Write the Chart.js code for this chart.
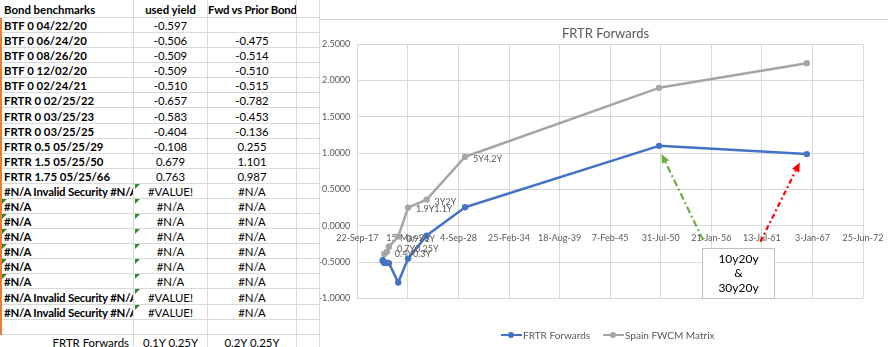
<!DOCTYPE html>
<html><head><meta charset="utf-8">
<script src="https://cdn.jsdelivr.net/npm/chart.js@4/dist/chart.umd.min.js"></script>
<style>
html,body{margin:0;padding:0;width:888px;height:347px;overflow:hidden;background:#fff;}
#sheet{position:absolute;left:0;top:0;width:888px;height:347px;font-family:Lato,'Liberation Sans',sans-serif;font-size:11.4px;color:#000;}
.c{position:absolute;box-sizing:border-box;border-right:1px solid #d9d9d9;border-bottom:1px solid #d9d9d9;white-space:nowrap;overflow:hidden;padding:0 4px;}
.b{font-weight:bold;}
.ctr{text-align:center;padding:0;}
.rgt{text-align:right;}
.tight{letter-spacing:-0.2px;}
.tri{position:absolute;width:0;height:0;border-top:5px solid #2a8a2a;border-right:5px solid transparent;}
#orange{position:absolute;left:0;top:18px;width:2px;height:317px;background:#ED7D31;}
#chartbox{position:absolute;left:319px;top:19px;width:600px;height:340px;border-left:1px solid #d9d9d9;border-top:1px solid #d9d9d9;background:#fff;}
#cv{position:absolute;left:0;top:0;}
.lgline{position:absolute;height:2.5px;}
.lgdot{position:absolute;width:6px;height:6px;border-radius:50%;}
.lgtxt{position:absolute;font-family:Lato,'Liberation Sans',sans-serif;font-size:10px;color:#595959;line-height:14px;white-space:nowrap;}
</style>
</head>
<body>
<div id="sheet"></div>
<div id="chartbox"><canvas id="cv" width="571" height="327"></canvas></div>
<div class="lgline" style="left:501px;top:333.5px;width:21px;background:#4472C4"></div>
<div class="lgdot" style="left:508px;top:331.7px;background:#4472C4"></div>
<div class="lgtxt" style="left:523px;top:327.7px">FRTR Forwards</div>
<div class="lgline" style="left:603px;top:333.5px;width:21px;background:#A5A5A5"></div>
<div class="lgdot" style="left:610px;top:331.7px;background:#A5A5A5"></div>
<div class="lgtxt" style="left:625px;top:327.7px">Spain FWCM Matrix</div>
<script>
// ---------- Spreadsheet data ----------
const headers = ['Bond benchmarks', 'used yield', 'Fwd vs Prior Bond'];
const bondNames = ['BTF 0 04/22/20','BTF 0 06/24/20','BTF 0 08/26/20','BTF 0 12/02/20','BTF 0 02/24/21',
  'FRTR 0 02/25/22','FRTR 0 03/25/23','FRTR 0 03/25/25','FRTR 0.5 05/25/29','FRTR 1.5 05/25/50','FRTR 1.75 05/25/66'];
const usedYield = ['-0.597','-0.506','-0.509','-0.509','-0.510','-0.657','-0.583','-0.404','-0.108','0.679','0.763'];
const fwdVsPriorText = ['','-0.475','-0.514','-0.510','-0.515','-0.782','-0.453','-0.136','0.255','1.101','0.987'];
const errorRowsA = ['#N/A Invalid Security #N/A Invalid Security','#N/A','#N/A','#N/A','#N/A','#N/A','#N/A',
  '#N/A Invalid Security #N/A Invalid Security','#N/A Invalid Security #N/A Invalid Security'];
const errorRowsB = ['#VALUE!','#N/A','#N/A','#N/A','#N/A','#N/A','#N/A','#VALUE!','#VALUE!'];
const errorRowsC = ['#N/A','#N/A','#N/A','#N/A','#N/A','#N/A','#N/A','#N/A','#N/A'];
const footerRow = ['FRTR Forwards','0.1Y 0.25Y','0.2Y 0.25Y'];

// ---------- Chart data ----------
const maturitySerial = [43943, 44006, 44069, 44167, 44251, 44617, 45010, 45741, 47263, 54933, 60777]; // Excel date serials
const frtrForwards   = [null, -0.475, -0.514, -0.510, -0.515, -0.782, -0.453, -0.136, 0.255, 1.101, 0.987];
const spainFwcm      = [null, -0.49, -0.39, -0.36, -0.29, -0.15, 0.25, 0.36, 0.95, 1.90, 2.24];
const spainLabels    = [null, null, null, '0.4Y0.3Y', '0.7Y0.25Y', '0.9Y1Y', '1.9Y1.1Y', '3Y2Y', '5Y4.2Y', null, null];
const seriesNames    = ['FRTR Forwards', 'Spain FWCM Matrix'];
const chartTitle     = 'FRTR Forwards';
const xTicks = [43000, 45000, 47000, 49000, 51000, 53000, 55000, 57000, 59000, 61000, 63000];
const yTicks = [-1, -0.5, 0, 0.5, 1, 1.5, 2, 2.5];
// annotations (data coordinates: Excel serial, value)
const greenArrow = [[56676, -0.197], [55032, 0.99]];
const redArrow   = [[58945, -0.22], [60498, 0.87]];
const noteBox    = [[56613, -0.311], [59482, -1.0]];
const noteLines  = ['10y20y', '&', '30y20y'];

// ---------- Build sheet ----------
const sheet = document.getElementById('sheet');
const colX = [0, 134, 208, 297, 320];
function rowTop(i){ return i === 0 ? 0 : Math.round(18 + (i - 1) * 15.08); }
function rowH(i){ return rowTop(i + 1) - rowTop(i); }
function cell(col, row, text, cls){
  const d = document.createElement('div');
  d.className = 'c ' + (cls || '');
  d.style.left = colX[col] + 'px'; d.style.width = (colX[col + 1] - colX[col]) + 'px';
  d.style.top = rowTop(row) + 'px'; d.style.height = rowH(row) + 'px';
  d.style.lineHeight = (rowH(row) + 1) + 'px';
  d.textContent = text;
  sheet.appendChild(d);
  return d;
}
function tri(x, row){
  const t = document.createElement('div'); t.className = 'tri';
  t.style.left = x + 'px'; t.style.top = (rowTop(row)) + 'px';
  sheet.appendChild(t);
}
cell(0, 0, headers[0], 'b'); cell(1, 0, headers[1], 'b ctr'); cell(2, 0, headers[2], 'b ctr tight'); cell(3, 0, '', '');
let r = 1;
for (let i = 0; i < bondNames.length; i++, r++){
  cell(0, r, bondNames[i], 'b'); cell(1, r, usedYield[i], 'ctr'); cell(2, r, fwdVsPriorText[i], 'ctr'); cell(3, r, '', '');
}
for (let i = 0; i < errorRowsA.length; i++, r++){
  cell(0, r, errorRowsA[i], 'b tight'); cell(1, r, errorRowsB[i], 'ctr'); cell(2, r, errorRowsC[i], 'ctr'); cell(3, r, '', '');
  tri(135, r);
  if (errorRowsA[i] === '#N/A') tri(2, r);
}
cell(0, r, '', ''); cell(1, r, '', ''); cell(2, r, '', ''); cell(3, r, '', ''); r++;
cell(0, r, footerRow[0], 'rgt'); cell(1, r, footerRow[1], 'ctr'); cell(2, r, footerRow[2], 'ctr'); cell(3, r, '', '');
const orange = document.createElement('div'); orange.id = 'orange'; sheet.appendChild(orange);

// ---------- Chart ----------
const MONTHS = ['Jan','Feb','Mar','Apr','May','Jun','Jul','Aug','Sep','Oct','Nov','Dec'];
function serialToLabel(s){
  const d = new Date(Date.UTC(1899, 11, 30) + s * 864e5);
  return d.getUTCDate() + '-' + MONTHS[d.getUTCMonth()] + '-' + String(d.getUTCFullYear() % 100).padStart(2, '0');
}
function pts(ys, lbls){
  const out = [];
  maturitySerial.forEach((x, i) => { if (ys[i] !== null) out.push({x: x, y: ys[i], lbl: lbls ? lbls[i] : null}); });
  return out;
}
const FONT = 'Lato, "Liberation Sans", sans-serif';
Chart.defaults.font.family = FONT;

const labelPlugin = {
  id: 'pointLabels',
  afterDatasetsDraw(chart){
    const ctx = chart.ctx, meta = chart.getDatasetMeta(1), ds = chart.data.datasets[1].data;
    ctx.save();
    ctx.font = '9px ' + FONT; ctx.fillStyle = '#595959'; ctx.textAlign = 'left'; ctx.textBaseline = 'middle';
    meta.data.forEach((el, i) => { if (ds[i].lbl) ctx.fillText(ds[i].lbl, el.x + 8, el.y + 2); });
    ctx.restore();
  }
};
function arrow(chart, a, color, dash){
  const xs = chart.scales.x, ys = chart.scales.y, ctx = chart.ctx;
  const x0 = xs.getPixelForValue(a[0][0]), y0 = ys.getPixelForValue(a[0][1]);
  const x1 = xs.getPixelForValue(a[1][0]), y1 = ys.getPixelForValue(a[1][1]);
  const ang = Math.atan2(y1 - y0, x1 - x0), L = 9, W = 4;
  const bx = x1 - L * Math.cos(ang), by = y1 - L * Math.sin(ang);
  ctx.save();
  ctx.strokeStyle = color; ctx.fillStyle = color; ctx.lineWidth = 2.2; ctx.setLineDash(dash);
  ctx.beginPath(); ctx.moveTo(x0, y0); ctx.lineTo(bx, by); ctx.stroke();
  ctx.setLineDash([]);
  ctx.beginPath(); ctx.moveTo(x1, y1);
  ctx.lineTo(bx + W * Math.sin(ang), by - W * Math.cos(ang));
  ctx.lineTo(bx - W * Math.sin(ang), by + W * Math.cos(ang));
  ctx.closePath(); ctx.fill();
  ctx.restore();
}
const annotPlugin = {
  id: 'annots',
  afterDatasetsDraw(chart){
    arrow(chart, greenArrow, '#70AD47', [7, 3, 2, 3]);
    arrow(chart, redArrow, '#FF0000', [5, 3, 2, 3]);
    const xs = chart.scales.x, ys = chart.scales.y, ctx = chart.ctx;
    const bx0 = Math.round(xs.getPixelForValue(noteBox[0][0])) + 0.5, by0 = Math.round(ys.getPixelForValue(noteBox[0][1])) + 0.5;
    const bx1 = Math.round(xs.getPixelForValue(noteBox[1][0])) + 0.5, by1 = Math.round(ys.getPixelForValue(noteBox[1][1])) + 0.5;
    ctx.save();
    ctx.fillStyle = '#fff'; ctx.fillRect(bx0, by0, bx1 - bx0, by1 - by0);
    ctx.strokeStyle = '#bfbfbf'; ctx.lineWidth = 1; ctx.strokeRect(bx0, by0, bx1 - bx0, by1 - by0);
    ctx.fillStyle = '#000'; ctx.font = '12px ' + FONT; ctx.textAlign = 'center'; ctx.textBaseline = 'middle';
    const cx = (bx0 + bx1) / 2, h = by1 - by0;
    noteLines.forEach((t, i) => ctx.fillText(t, cx, by0 + h * (i + 0.7) / (noteLines.length + 0.4)));
    ctx.restore();
  }
};

new Chart(document.getElementById('cv').getContext('2d'), {
  type: 'line',
  data: {
    datasets: [
      { label: seriesNames[0], data: pts(frtrForwards), borderColor: '#4472C4', backgroundColor: '#4472C4',
        borderWidth: 2.5, pointRadius: 3.2, pointBorderWidth: 0, pointBackgroundColor: '#4472C4',
        borderJoinStyle: 'round', borderCapStyle: 'round', tension: 0, fill: false },
      { label: seriesNames[1], data: pts(spainFwcm, spainLabels), borderColor: '#A5A5A5', backgroundColor: '#A5A5A5',
        borderWidth: 2.5, pointRadius: 3.2, pointBorderWidth: 0, pointBackgroundColor: '#A5A5A5',
        borderJoinStyle: 'round', borderCapStyle: 'round', tension: 0, fill: false }
    ]
  },
  options: {
    responsive: false, animation: false, devicePixelRatio: 1,
    layout: { padding: { left: 0, right: 0, top: 0, bottom: 48.7 }, autoPadding: false },
    plugins: {
      legend: { display: false }, tooltip: { enabled: false },
      title: { display: true, text: chartTitle, fullSize: true, color: '#595959',
        font: { size: 13, weight: 'normal', family: FONT }, padding: { top: 6.2, bottom: 2.5 } }
    },
    scales: {
      x: {
        type: 'linear', position: { y: 0 }, min: xTicks[0], max: xTicks[xTicks.length - 1],
        afterBuildTicks(s){ s.ticks = xTicks.map(v => ({ value: v })); },
        ticks: { autoSkip: false, maxRotation: 0, color: '#595959', font: { size: 9 }, padding: 7,
          callback: v => serialToLabel(v) },
        grid: { color: '#d9d9d9', drawTicks: false }, border: { color: '#d9d9d9' }
      },
      y: {
        min: yTicks[0], max: yTicks[yTicks.length - 1],
        afterBuildTicks(s){ s.ticks = yTicks.map(v => ({ value: v })); },
        ticks: { color: '#595959', font: { size: 9 }, padding: 7, callback: v => Number(v).toFixed(4) },
        grid: { color: '#d9d9d9', drawTicks: false }, border: { display: false },
        afterFit(s){ s.width = 37.3; }
      },
      yRightSpacer: {
        type: 'linear', position: 'right', display: true, min: 0, max: 1,
        ticks: { display: false }, grid: { display: false, drawTicks: false }, border: { display: false },
        afterFit(s){ s.width = 28; }
      }
    }
  },
  plugins: [labelPlugin, annotPlugin]
});
</script>
</body></html>
